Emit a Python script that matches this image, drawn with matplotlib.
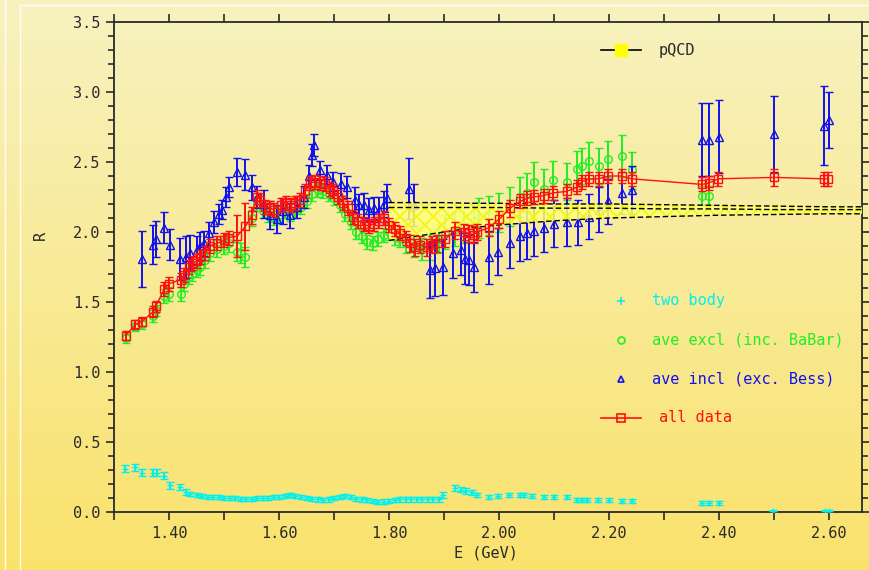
import numpy as np
import matplotlib.pyplot as plt
from matplotlib.ticker import MultipleLocator, FuncFormatter

# %% data
# all data (red squares, joined)
red_E = [1.321, 1.339, 1.351, 1.371, 1.376, 1.391, 1.400, 1.421, 1.427, 1.436,
         1.442, 1.451, 1.457, 1.466, 1.475, 1.488, 1.500, 1.509, 1.524, 1.539,
         1.551, 1.560, 1.566, 1.575, 1.584, 1.590, 1.603, 1.612, 1.621, 1.630,
         1.639, 1.648, 1.657, 1.666, 1.675, 1.684, 1.693, 1.699, 1.708, 1.717,
         1.726, 1.735, 1.744, 1.754, 1.763, 1.772, 1.781, 1.790, 1.800, 1.810,
         1.820, 1.830, 1.839, 1.848, 1.857, 1.869, 1.878, 1.887, 1.902, 1.920,
         1.936, 1.945, 1.954, 1.960, 1.981, 2.000, 2.020, 2.039, 2.051, 2.063,
         2.081, 2.099, 2.123, 2.142, 2.151, 2.163, 2.181, 2.199, 2.223, 2.241,
         2.369, 2.381, 2.399, 2.500, 2.590, 2.599]
red_R = [1.26, 1.34, 1.36, 1.43, 1.47, 1.59, 1.63, 1.66, 1.69, 1.75,
         1.78, 1.79, 1.82, 1.85, 1.90, 1.92, 1.94, 1.96, 1.97, 2.04,
         2.12, 2.25, 2.23, 2.18, 2.17, 2.16, 2.19, 2.21, 2.19, 2.21,
         2.23, 2.29, 2.35, 2.36, 2.35, 2.34, 2.31, 2.29, 2.25, 2.21,
         2.17, 2.11, 2.08, 2.06, 2.04, 2.06, 2.08, 2.10, 2.05, 2.02,
         1.99, 1.96, 1.92, 1.89, 1.91, 1.89, 1.91, 1.92, 1.95, 2.01,
         2.00, 1.99, 1.98, 2.00, 2.03, 2.09, 2.17, 2.22, 2.24, 2.25,
         2.26, 2.28, 2.29, 2.32, 2.36, 2.38, 2.38, 2.40, 2.40, 2.38,
         2.34, 2.35, 2.38, 2.39, 2.38, 2.38]
red_err = [0.03, 0.03, 0.03, 0.04, 0.04, 0.05, 0.05, 0.05, 0.05, 0.05,
           0.05, 0.05, 0.05, 0.05, 0.05, 0.05, 0.05, 0.05, 0.15, 0.17,
           0.06, 0.05, 0.05, 0.05, 0.05, 0.05, 0.05, 0.05, 0.05, 0.05,
           0.05, 0.05, 0.05, 0.05, 0.05, 0.05, 0.05, 0.05, 0.05, 0.05,
           0.05, 0.05, 0.05, 0.05, 0.05, 0.05, 0.05, 0.05, 0.05, 0.05,
           0.05, 0.05, 0.06, 0.06, 0.06, 0.06, 0.06, 0.06, 0.06, 0.06,
           0.06, 0.06, 0.06, 0.06, 0.06, 0.06, 0.06, 0.05, 0.05, 0.05,
           0.05, 0.05, 0.05, 0.05, 0.05, 0.05, 0.05, 0.05, 0.05, 0.05,
           0.05, 0.05, 0.05, 0.06, 0.05, 0.05]

# ave incl (blue triangles)
blue_E = [1.351, 1.371, 1.377, 1.391, 1.401, 1.420, 1.430, 1.439, 1.450, 1.457,
          1.463, 1.472, 1.481, 1.490, 1.497, 1.503, 1.509, 1.524, 1.539, 1.551,
          1.560, 1.572, 1.584, 1.596, 1.608, 1.620, 1.632, 1.645, 1.654, 1.660,
          1.663, 1.675, 1.688, 1.699, 1.712, 1.724, 1.739, 1.745, 1.754, 1.763,
          1.772, 1.781, 1.790, 1.796, 1.836, 1.845, 1.875, 1.884, 1.899, 1.917,
          1.930, 1.939, 1.945, 1.954, 1.981, 1.999, 2.020, 2.039, 2.051, 2.063,
          2.081, 2.100, 2.124, 2.143, 2.163, 2.181, 2.199, 2.223, 2.241, 2.369,
          2.381, 2.400, 2.500, 2.590, 2.600]
blue_R = [1.81, 1.91, 1.95, 2.03, 1.91, 1.81, 1.82, 1.85, 1.87, 1.90,
          1.92, 1.99, 2.07, 2.13, 2.16, 2.25, 2.32, 2.43, 2.41, 2.32,
          2.25, 2.20, 2.12, 2.09, 2.15, 2.12, 2.18, 2.25, 2.40, 2.55,
          2.62, 2.44, 2.41, 2.36, 2.34, 2.32, 2.23, 2.19, 2.19, 2.16,
          2.17, 2.16, 2.20, 2.24, 2.31, 2.19, 1.73, 1.74, 1.75, 1.85,
          1.87, 1.81, 1.80, 1.75, 1.82, 1.86, 1.92, 1.97, 1.99, 2.01,
          2.03, 2.06, 2.07, 2.07, 2.11, 2.16, 2.22, 2.28, 2.30, 2.66,
          2.66, 2.68, 2.70, 2.76, 2.80]
blue_err = [0.20, 0.14, 0.13, 0.11, 0.11, 0.15, 0.15, 0.13, 0.10, 0.10,
            0.09, 0.08, 0.08, 0.07, 0.07, 0.07, 0.07, 0.10, 0.11, 0.09,
            0.08, 0.10, 0.10, 0.10, 0.09, 0.09, 0.08, 0.08, 0.08, 0.08,
            0.08, 0.07, 0.07, 0.07, 0.08, 0.08, 0.09, 0.08, 0.09, 0.08,
            0.08, 0.09, 0.09, 0.10, 0.22, 0.15, 0.20, 0.20, 0.20, 0.18,
            0.18, 0.18, 0.18, 0.18, 0.19, 0.17, 0.18, 0.18, 0.18, 0.18,
            0.17, 0.17, 0.17, 0.16, 0.16, 0.16, 0.16, 0.15, 0.17, 0.26,
            0.26, 0.26, 0.27, 0.28, 0.20]

# ave excl (green circles)
green_E = [1.321, 1.339, 1.351, 1.371, 1.376, 1.391, 1.400, 1.421, 1.427, 1.436,
           1.442, 1.451, 1.457, 1.466, 1.475, 1.488, 1.500, 1.509, 1.524, 1.530,
           1.539, 1.551, 1.560, 1.570, 1.580, 1.590, 1.600, 1.610, 1.620, 1.630,
           1.640, 1.650, 1.660, 1.670, 1.680, 1.690, 1.700, 1.710, 1.720, 1.730,
           1.740, 1.750, 1.760, 1.770, 1.780, 1.790, 1.800, 1.810, 1.820, 1.830,
           1.845, 1.860, 1.875, 1.890, 1.902, 1.920, 1.936, 1.954, 1.963, 1.981,
           2.000, 2.020, 2.039, 2.051, 2.063, 2.081, 2.099, 2.123, 2.142, 2.151,
           2.163, 2.181, 2.199, 2.223, 2.241, 2.369, 2.381]
green_R = [1.24, 1.32, 1.34, 1.40, 1.44, 1.54, 1.56, 1.56, 1.63, 1.68,
           1.70, 1.73, 1.75, 1.80, 1.85, 1.88, 1.90, 1.92, 1.86, 1.85,
           1.82, 2.10, 2.20, 2.15, 2.12, 2.10, 2.12, 2.15, 2.13, 2.15,
           2.18, 2.22, 2.27, 2.30, 2.29, 2.27, 2.24, 2.19, 2.13, 2.07,
           2.00, 1.97, 1.93, 1.92, 1.95, 1.98, 2.00, 1.97, 1.95, 1.92,
           1.90, 1.88, 1.90, 1.95, 2.00, 2.02, 2.05, 2.08, 2.10, 2.12,
           2.14, 2.18, 2.25, 2.28, 2.36, 2.31, 2.37, 2.36, 2.45, 2.47,
           2.51, 2.47, 2.52, 2.54, 2.44, 2.26, 2.26]
green_err = [0.03, 0.03, 0.03, 0.04, 0.04, 0.05, 0.05, 0.05, 0.05, 0.05,
             0.05, 0.05, 0.06, 0.06, 0.06, 0.06, 0.06, 0.06, 0.07, 0.07,
             0.07, 0.06, 0.05, 0.05, 0.05, 0.05, 0.05, 0.05, 0.05, 0.05,
             0.05, 0.05, 0.05, 0.05, 0.05, 0.05, 0.05, 0.05, 0.05, 0.05,
             0.05, 0.05, 0.05, 0.05, 0.05, 0.05, 0.06, 0.06, 0.06, 0.07,
             0.08, 0.08, 0.10, 0.10, 0.12, 0.12, 0.13, 0.13, 0.14, 0.14,
             0.14, 0.14, 0.14, 0.14, 0.14, 0.14, 0.14, 0.13, 0.13, 0.13,
             0.13, 0.13, 0.13, 0.15, 0.13, 0.07, 0.07]

# two body (cyan crosses)
cyan_E = [1.320, 1.339, 1.351, 1.370, 1.379, 1.391, 1.401, 1.420, 1.430, 1.439,
          1.451, 1.460, 1.470, 1.480, 1.490, 1.500, 1.510, 1.520, 1.530, 1.540,
          1.550, 1.560, 1.570, 1.580, 1.590, 1.600, 1.610, 1.620, 1.630, 1.640,
          1.650, 1.660, 1.670, 1.680, 1.690, 1.700, 1.710, 1.720, 1.730, 1.740,
          1.750, 1.760, 1.770, 1.780, 1.790, 1.800, 1.810, 1.820, 1.830, 1.840,
          1.850, 1.860, 1.870, 1.880, 1.890, 1.899, 1.920, 1.930, 1.940, 1.950,
          1.960, 1.981, 1.999, 2.019, 2.038, 2.045, 2.060, 2.081, 2.100, 2.124,
          2.141, 2.150, 2.160, 2.180, 2.200, 2.223, 2.242, 2.369, 2.381, 2.400,
          2.499, 2.592, 2.600]
cyan_R = [0.31, 0.32, 0.28, 0.28, 0.28, 0.26, 0.19, 0.18, 0.145, 0.13,
          0.12, 0.115, 0.11, 0.11, 0.105, 0.10, 0.10, 0.10, 0.095, 0.095,
          0.095, 0.10, 0.10, 0.10, 0.105, 0.11, 0.115, 0.12, 0.115, 0.11,
          0.10, 0.095, 0.09, 0.086, 0.09, 0.10, 0.11, 0.114, 0.105, 0.095,
          0.09, 0.085, 0.08, 0.074, 0.075, 0.08, 0.085, 0.09, 0.09, 0.09,
          0.09, 0.09, 0.09, 0.09, 0.09, 0.12, 0.17, 0.16, 0.15, 0.14,
          0.12, 0.105, 0.114, 0.12, 0.12, 0.12, 0.115, 0.11, 0.11, 0.105,
          0.086, 0.086, 0.086, 0.086, 0.086, 0.08, 0.08, 0.062, 0.062, 0.064,
          0.01, 0.01, 0.01]
cyan_err = [0.025, 0.025, 0.025, 0.025, 0.025, 0.025, 0.025, 0.02, 0.02, 0.015,
            0.015, 0.015, 0.015, 0.015, 0.015, 0.015, 0.015, 0.015, 0.015, 0.015,
            0.015, 0.015, 0.015, 0.015, 0.015, 0.015, 0.015, 0.015, 0.015, 0.015,
            0.015, 0.015, 0.015, 0.015, 0.015, 0.015, 0.015, 0.015, 0.015, 0.015,
            0.015, 0.015, 0.015, 0.015, 0.015, 0.015, 0.015, 0.015, 0.015, 0.015,
            0.015, 0.015, 0.015, 0.015, 0.015, 0.02, 0.02, 0.02, 0.02, 0.02,
            0.015, 0.015, 0.015, 0.015, 0.015, 0.015, 0.015, 0.015, 0.015, 0.015,
            0.015, 0.015, 0.015, 0.015, 0.015, 0.015, 0.015, 0.015, 0.015, 0.015,
            0.005, 0.005, 0.005]

# pQCD band
pqcd_E = [1.80, 1.85, 1.90, 1.95, 2.00, 2.10, 2.20, 2.30, 2.40, 2.50, 2.60, 2.66]
pqcd_hi = [2.21, 2.21, 2.21, 2.205, 2.205, 2.20, 2.20, 2.195, 2.19, 2.185, 2.18, 2.18]
pqcd_mid = [2.175, 2.175, 2.175, 2.175, 2.175, 2.17, 2.17, 2.165, 2.165, 2.16, 2.16, 2.16]
pqcd_lo = [1.94, 1.97, 2.00, 2.03, 2.05, 2.08, 2.10, 2.11, 2.12, 2.125, 2.13, 2.13]

# %% style
plt.rcParams['font.family'] = ['DejaVu Sans Mono']
plt.rcParams['hatch.linewidth'] = 1.3
ink = '#2a2a2a'
fs = 11

fig = plt.figure(figsize=(8.69, 5.70), dpi=100)

# pale-to-yellow background with thin white frame lines
bg = fig.add_axes([0, 0, 1, 1])
c_top = np.array([247, 242, 192]) / 255
c_bot = np.array([250, 226, 108]) / 255
t = np.linspace(0, 1, 256)[:, None]
grad = c_top[None, :] * (1 - t) + c_bot[None, :] * t
bg.imshow(grad[:, None, :], aspect='auto', extent=[0, 1, 0, 1], origin='upper')
bg.plot([5 / 869, 5 / 869], [0, 1], color='white', lw=1, alpha=0.9)
bg.plot([20 / 869, 20 / 869], [0, 1 - 5 / 570], color='white', lw=1, alpha=0.9)
bg.plot([20 / 869, 1], [1 - 5 / 570, 1 - 5 / 570], color='white', lw=1, alpha=0.9)
bg.set_xlim(0, 1)
bg.set_ylim(0, 1)
bg.axis('off')

ax = fig.add_axes([114 / 869, 1 - 512 / 570, 748 / 869, 490 / 570])
ax.patch.set_alpha(0)

eb = dict(ls='none', capsize=3, elinewidth=1.4, capthick=1.4, mew=1.0)

ax.errorbar(cyan_E, cyan_R, yerr=cyan_err, fmt='+', color='#00f0f0', ms=5,
            zorder=3, **eb)
ax.errorbar(green_E, green_R, yerr=green_err, fmt='o', color='#22ee22',
            mfc='none', ms=5.5, zorder=3, **eb)
ax.errorbar(blue_E, blue_R, yerr=blue_err, fmt='^', color='#1010f0',
            mfc='none', ms=6, zorder=4, **eb)

# pQCD band
ax.fill_between(pqcd_E, pqcd_lo, pqcd_hi, facecolor='#ffff80', edgecolor='#f4f400',
                hatch='xx', linewidth=0, alpha=0.85, zorder=5)
for yv in (pqcd_hi, pqcd_mid, pqcd_lo):
    ax.plot(pqcd_E, yv, color='black', lw=1, ls=(0, (4, 2)), zorder=6)

ax.errorbar(red_E, red_R, yerr=red_err, fmt='s', color='#ff1010',
            mfc='none', ms=6, zorder=7, **eb)
ax.plot(red_E, red_R, color='#ff1010', lw=1, zorder=7)

# %% axes
ax.set_xlim(1.30, 2.66)
ax.set_ylim(0, 3.5)
ax.xaxis.set_major_locator(MultipleLocator(0.1))
ax.xaxis.set_major_formatter(FuncFormatter(
    lambda v, p: f'{v:.2f}' if round(v * 10) % 2 == 0 else ''))
ax.yaxis.set_major_locator(MultipleLocator(0.5))
ax.yaxis.set_minor_locator(MultipleLocator(0.1))
ax.yaxis.set_major_formatter(FuncFormatter(lambda v, p: f'{v:.1f}'))
ax.tick_params(which='both', direction='out', top=True, right=True,
               color=ink, labelcolor=ink, labelsize=fs, width=1.2)
ax.tick_params(which='major', length=6, pad=4)
ax.tick_params(which='minor', length=4)
for s in ax.spines.values():
    s.set_linewidth(1.3)
    s.set_color(ink)

fig.text(40 / 869, 1 - 235 / 570, 'R', rotation=90, fontsize=fs, color=ink,
         ha='center', va='center')
fig.text(486 / 869, 1 - 553 / 570, 'E (GeV)', fontsize=fs, color=ink,
         ha='center', va='center')

# %% key
def fx(px):
    return (px - 114) / 748

def fy(py):
    return (512 - py) / 490

tr = ax.transAxes
ax.plot([fx(601), fx(641)], [fy(50), fy(50)], color='black', lw=1.2, transform=tr)
ax.plot([fx(621)], [fy(50)], 's', color='#ffff00', ms=8, transform=tr)
ax.text(fx(659), fy(50), 'pQCD', color=ink, fontsize=fs, va='center', transform=tr)

ax.plot([fx(621)], [fy(301)], '+', color='#00f0f0', ms=6, mew=1.2, transform=tr)
ax.text(fx(652), fy(301), 'two body', color='#00f0f0', fontsize=fs, va='center',
        transform=tr)
ax.plot([fx(621)], [fy(340)], 'o', color='#22ee22', mfc='none', ms=5, mew=1.2,
        transform=tr)
ax.text(fx(652), fy(340), 'ave excl (inc. BaBar)', color='#22ee22', fontsize=fs,
        va='center', transform=tr)
ax.plot([fx(621)], [fy(379)], '^', color='#1010f0', mfc='none', ms=5, mew=1.2,
        transform=tr)
ax.text(fx(652), fy(379), 'ave incl (exc. Bess)', color='#1010f0', fontsize=fs,
        va='center', transform=tr)
ax.plot([fx(601), fx(641)], [fy(418), fy(418)], color='#ff1010', lw=1.2, transform=tr)
ax.plot([fx(621)], [fy(418)], 's', color='#ff1010', mfc='none', ms=6, mew=1.2,
        transform=tr)
ax.text(fx(659), fy(418), 'all data', color='#ff1010', fontsize=fs, va='center',
        transform=tr)

fig.savefig('out.png', dpi=100)
